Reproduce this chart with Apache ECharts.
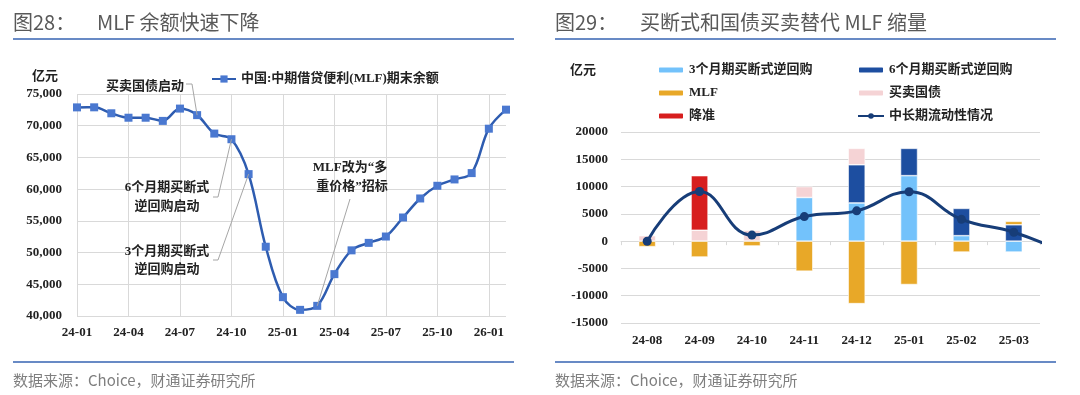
<!DOCTYPE html>
<html><head><meta charset="utf-8">
<script src="https://cdn.jsdelivr.net/npm/echarts@6/dist/echarts.min.js"></script>
<style>html,body{margin:0;padding:0;background:#fff}#c{width:1080px;height:395px}</style>
</head><body><div id="c"></div>
<script>
// ---------- Data ----------
const leftCategories = ['24-01','24-02','24-03','24-04','24-05','24-06','24-07','24-08','24-09','24-10','24-11','24-12',
  '25-01','25-02','25-03','25-04','25-05','25-06','25-07','25-08','25-09','25-10','25-11','25-12','26-01','26-02'];
const mlfBalance = [72890,72900,71960,71260,71260,70760,72700,71670,68760,67870,62370,50920,
  42970,40970,41600,46600,50350,51530,52530,55530,58530,60530,61530,62530,69530,72530];
const leftSeriesName = '中国:中期借贷便利(MLF)期末余额';
const leftYTicks = [40000,45000,50000,55000,60000,65000,70000,75000];

const rightCategories = ['24-08','24-09','24-10','24-11','24-12','25-01','25-02','25-03'];
const outright3M  = [null,null,null,8000,7000,12000,1000,-2000];
const outright6M  = [null,null,null,null,7000,5000,5000,3000];
const bondTrading = [1000,2000,2000,2000,3000,null,null,null];
const mlfNet      = [-1010,-2910,-890,-5500,-11450,-7950,-2000,630];
const rrrCut      = [null,10000,null,null,null,null,null,null];
const liquidityNet = [-10,9090,1110,4500,5550,9050,4000,1630,-2200];
const rightYTicks = [-15000,-10000,-5000,0,5000,10000,15000,20000];

// ---------- Styles ----------
const SERIF = '"Liberation Serif","Noto Sans CJK SC",serif';
const SANS = '"Noto Sans CJK SC","Noto Sans",sans-serif';
const GRID_C = '#D9D9D9';
const LBL = {fontFamily: SERIF, fontWeight: 'bold', fontSize: 13, color: '#222'};

const chart = echarts.init(document.getElementById('c'), null, {renderer: 'canvas'});

const option = {
  animation: false,
  backgroundColor: '#fff',
  grid: [
    {left: 77, right: 574, top: 94, bottom: 79},
    {left: 621, right: 40, top: 132, bottom: 72}
  ],
  legend: [
    {left: 206, top: 66, itemWidth: 24, itemHeight: 9, itemGap: 10,
     data: [leftSeriesName], textStyle: Object.assign({}, LBL, {lineHeight: 16})},
    {orient: 'vertical', left: 652, top: 57, itemWidth: 26, itemHeight: 7, itemGap: 7,
     data: ['3个月期买断式逆回购','MLF','降准'], textStyle: Object.assign({}, LBL, {lineHeight: 16})},
    {orient: 'vertical', left: 852, top: 57, itemWidth: 26, itemHeight: 7, itemGap: 7,
     data: ['6个月期买断式逆回购','买卖国债','中长期流动性情况'], textStyle: Object.assign({}, LBL, {lineHeight: 16})}
  ],
  xAxis: [
    {gridIndex: 0, type: 'category', data: leftCategories, boundaryGap: false,
     axisLine: {show: false}, axisTick: {show: false},
     axisLabel: Object.assign({interval: 2, margin: 10}, LBL),
     splitLine: {show: true, interval: 2, lineStyle: {color: GRID_C}}},
    {gridIndex: 1, type: 'category', data: rightCategories, position: 'bottom',
     axisLine: {show: false, onZero: false}, axisTick: {show: false},
     axisLabel: Object.assign({margin: 11}, LBL), splitLine: {show: false}},
    {gridIndex: 1, type: 'category', data: rightCategories, position: 'bottom',
     axisLine: {show: true, onZero: true, lineStyle: {color: GRID_C}},
     axisTick: {show: true, length: 4, lineStyle: {color: GRID_C}},
     axisLabel: {show: false}, splitLine: {show: false}},
    {gridIndex: 1, type: 'value', min: -0.5, max: 7.5, show: false}
  ],
  yAxis: [
    {gridIndex: 0, type: 'value', min: leftYTicks[0], max: leftYTicks[leftYTicks.length-1], interval: 5000,
     axisLine: {show: false}, axisTick: {show: false},
     axisLabel: Object.assign({margin: 15, formatter: v => v.toLocaleString('en-US')}, LBL),
     splitLine: {lineStyle: {color: GRID_C}}},
    {gridIndex: 1, type: 'value', min: rightYTicks[0], max: rightYTicks[rightYTicks.length-1], interval: 5000,
     axisLine: {show: false}, axisTick: {show: false},
     axisLabel: Object.assign({margin: 13, formatter: v => String(v)}, LBL),
     splitLine: {lineStyle: {color: GRID_C}}}
  ],
  series: [
    {name: leftSeriesName, type: 'line', xAxisIndex: 0, yAxisIndex: 0, data: mlfBalance,
     smooth: 0.35, symbol: 'rect', symbolSize: 8,
     lineStyle: {color: '#2E5CB0', width: 2.5}, itemStyle: {color: '#4A78D0'}},
    {name: '3个月期买断式逆回购', type: 'bar', xAxisIndex: 1, yAxisIndex: 1, stack: 'ops', data: outright3M,
     barWidth: 17, itemStyle: {color: '#73C2FB', borderColor: '#fff', borderWidth: 0.6}},
    {name: '6个月期买断式逆回购', type: 'bar', xAxisIndex: 1, yAxisIndex: 1, stack: 'ops', data: outright6M,
     barWidth: 17, itemStyle: {color: '#1D4EA0', borderColor: '#fff', borderWidth: 0.6}},
    {name: '买卖国债', type: 'bar', xAxisIndex: 1, yAxisIndex: 1, stack: 'ops', data: bondTrading,
     barWidth: 17, itemStyle: {color: '#F5D3D5', borderColor: '#fff', borderWidth: 0.6}},
    {name: 'MLF', type: 'bar', xAxisIndex: 1, yAxisIndex: 1, stack: 'ops', data: mlfNet,
     barWidth: 17, itemStyle: {color: '#E8A828', borderColor: '#fff', borderWidth: 0.6}},
    {name: '降准', type: 'bar', xAxisIndex: 1, yAxisIndex: 1, stack: 'ops', data: rrrCut,
     barWidth: 17, itemStyle: {color: '#D71E1E', borderColor: '#fff', borderWidth: 0.6}},
    {name: '中长期流动性情况', type: 'line', xAxisIndex: 3, yAxisIndex: 1,
     data: liquidityNet.map((v, i) => [i, v]), smooth: 0.45, clip: true,
     symbol: 'circle', symbolSize: 9, z: 5,
     lineStyle: {color: '#173D78', width: 3}, itemStyle: {color: '#173D78'}}
  ]
};
chart.setOption(option);

// ---------- Decorations ----------
function txt(text, x, y, o) {
  return {type: 'text', silent: true, z: 50, style: Object.assign({
    text, x, y, fontFamily: SANS, fontSize: 13, fill: '#222', align: 'left', verticalAlign: 'middle'}, o || {})};
}
function ann(text, x, y) {
  return txt(text, x, y, {fontFamily: SERIF, fontWeight: 'bold', fontSize: 13, align: 'center', fill: '#222'});
}
function pt(ci, v) { return chart.convertToPixel({xAxisIndex: 0, yAxisIndex: 0}, [ci, v]); }
function leader(points) {
  return {type: 'polyline', silent: true, z: 40, shape: {points},
          style: {stroke: '#A6A6A6', lineWidth: 1, fill: null}};
}
const p08 = pt(7, mlfBalance[7]);
const p10 = pt(9, mlfBalance[9]);
const p11 = pt(10, mlfBalance[10]);
const p2503 = pt(14, mlfBalance[14]);

const titleStyle = {fontFamily: SANS, fontSize: 20, fill: '#595959'};
const footStyle = {fontFamily: SANS, fontSize: 15, fill: '#7F7F7F'};
const graphics = [
  txt('图28：', 13, 22, titleStyle),
  txt('MLF 余额快速下降', 97, 22, titleStyle),
  txt('图29：', 555, 22, titleStyle),
  txt('买断式和国债买卖替代 MLF 缩量', 640, 22, titleStyle),
  {type: 'line', silent: true, shape: {x1: 13, y1: 39, x2: 514, y2: 39}, style: {stroke: '#3663B2', lineWidth: 1.5}},
  {type: 'line', silent: true, shape: {x1: 555, y1: 39, x2: 1056, y2: 39}, style: {stroke: '#3663B2', lineWidth: 1.5}},
  {type: 'line', silent: true, shape: {x1: 13, y1: 362, x2: 514, y2: 362}, style: {stroke: '#3663B2', lineWidth: 1.5}},
  {type: 'line', silent: true, shape: {x1: 555, y1: 362, x2: 1056, y2: 362}, style: {stroke: '#3663B2', lineWidth: 1.5}},
  txt('数据来源：Choice，财通证券研究所', 13, 380, footStyle),
  txt('数据来源：Choice，财通证券研究所', 555, 380, footStyle),
  txt('亿元', 32, 77, {fontFamily: SERIF, fontWeight: 'bold', fontSize: 13}),
  txt('亿元', 570, 71, {fontFamily: SERIF, fontWeight: 'bold', fontSize: 13}),
  ann('买卖国债启动', 145, 87),
  ann('6个月期买断式', 167, 188),
  ann('逆回购启动', 167, 207),
  ann('3个月期买断式', 167, 252),
  ann('逆回购启动', 167, 270),
  ann('MLF改为“多', 350, 168),
  ann('重价格”招标', 352, 187),
  leader([[186, 84], [192, 84], p08]),
  leader([[213, 197], [218, 197], p10]),
  leader([[213, 260], [218, 260], p11]),
  leader([[350, 199], p2503])
];
chart.setOption({graphic: graphics});
</script>
</body></html>
